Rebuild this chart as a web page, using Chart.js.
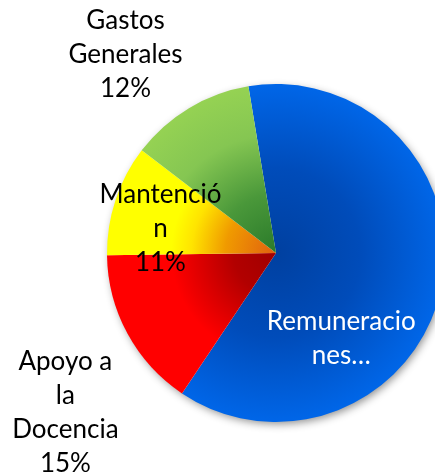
<!DOCTYPE html>
<html>
<head>
<meta charset="utf-8">
<script src="https://cdn.jsdelivr.net/npm/chart.js@4/dist/chart.umd.min.js"></script>
<style>
  html, body { margin: 0; padding: 0; background: #fff; overflow: hidden; }
  #wrap { position: absolute; left: 0; top: 0; width: 460px; height: 476px; }
</style>
</head>
<body>
<div id="wrap"><canvas id="pie"></canvas></div>
<script>
'use strict';

// --- data ---
const CATEGORIES = ['Remuneraciones', 'Apoyo a la Docencia', 'Mantención', 'Gastos Generales'];
const VALUES = [62, 15.4, 10.6, 12];
// wrapped label text as shown on the chart (percent line is appended)
const LABEL_LINES = [
  ['Remuneracio', 'nes…'],
  ['Apoyo a', 'la', 'Docencia'],
  ['Mantenció', 'n'],
  ['Gastos', 'Generales'],
];
const SHOW_PCT = [false, true, true, true];

// --- styling ---
const GRAD_STOPS = [
  [[0, '#0040a0'], [0.5, '#004cba'], [1, '#0066e8']],
  [[0, '#a00000'], [0.25, '#b20000'], [0.45, '#dc0000'], [0.62, '#ff0000'], [1, '#ff0000']],
  [[0, '#e06010'], [0.3, '#f09a00'], [0.5, '#ffe400'], [0.62, '#ffff00'], [1, '#ffff00']],
  [[0, '#2a7a2a'], [0.35, '#4a983a'], [0.7, '#85c652'], [1, '#95d253']],
];
const LABEL_COLORS = ['#ffffff', '#000000', '#000000', '#000000'];
// label placement: distance (x outer radius) and angle shift (deg) from slice middle
const LABEL_DIST = [0.63, 1.56, 0.70, 1.48];
const LABEL_SHIFT = [40, -8.5, -6, -6];
const LINE_H = 34;
const FONT = '26px Lato, "Open Sans", sans-serif';

function sliceFill(ctx) {
  const chart = ctx.chart;
  const area = chart.chartArea;
  const stops = GRAD_STOPS[ctx.dataIndex];
  if (!area) return stops[stops.length - 1][1];
  const cx = (area.left + area.right) / 2;
  const cy = (area.top + area.bottom) / 2;
  const r = Math.min(area.width, area.height) / 2;
  const g = chart.ctx.createRadialGradient(cx, cy, 0, cx, cy, r);
  stops.forEach(s => g.addColorStop(s[0], s[1]));
  return g;
}

// soft shadow under the whole pie
const pieShadow = {
  id: 'pieShadow',
  beforeDatasetsDraw(chart) {
    const arc = chart.getDatasetMeta(0).data[0];
    if (!arc) return;
    const c = chart.ctx;
    c.save();
    c.shadowColor = 'rgba(0,0,0,0.45)';
    c.shadowBlur = 8;
    c.shadowOffsetX = 2;
    c.shadowOffsetY = 3;
    c.fillStyle = '#ffffff';
    c.beginPath();
    c.arc(arc.x, arc.y, arc.outerRadius - 1, 0, Math.PI * 2);
    c.fill();
    c.restore();
  },
};

const sliceLabels = {
  id: 'sliceLabels',
  afterDatasetsDraw(chart) {
    const meta = chart.getDatasetMeta(0);
    const total = VALUES.reduce((a, b) => a + b, 0);
    const c = chart.ctx;
    c.save();
    c.font = FONT;
    c.textAlign = 'center';
    c.textBaseline = 'middle';
    meta.data.forEach((arc, i) => {
      const mid = (arc.startAngle + arc.endAngle) / 2 + LABEL_SHIFT[i] * Math.PI / 180;
      const d = arc.outerRadius * LABEL_DIST[i];
      const x = arc.x + Math.cos(mid) * d;
      const y = arc.y + Math.sin(mid) * d + 1;
      const lines = LABEL_LINES[i].slice();
      if (SHOW_PCT[i]) lines.push(Math.round(VALUES[i] / total * 100) + '%');
      c.fillStyle = LABEL_COLORS[i];
      lines.forEach((t, k) => {
        c.fillText(t, x, y + (k - (lines.length - 1) / 2) * LINE_H);
      });
    });
    c.restore();
  },
};

new Chart(document.getElementById('pie').getContext('2d'), {
  type: 'pie',
  data: {
    labels: CATEGORIES,
    datasets: [{
      data: VALUES,
      backgroundColor: sliceFill,
      borderWidth: 0,
      hoverOffset: 0,
      offset: 0,
    }],
  },
  options: {
    responsive: true,
    maintainAspectRatio: false,
    animation: false,
    rotation: -9.4,
    layout: { padding: { left: 107, right: 15, top: 84, bottom: 54 } },
    plugins: { legend: { display: false }, tooltip: { enabled: false } },
  },
  plugins: [pieShadow, sliceLabels],
});
</script>
</body>
</html>
